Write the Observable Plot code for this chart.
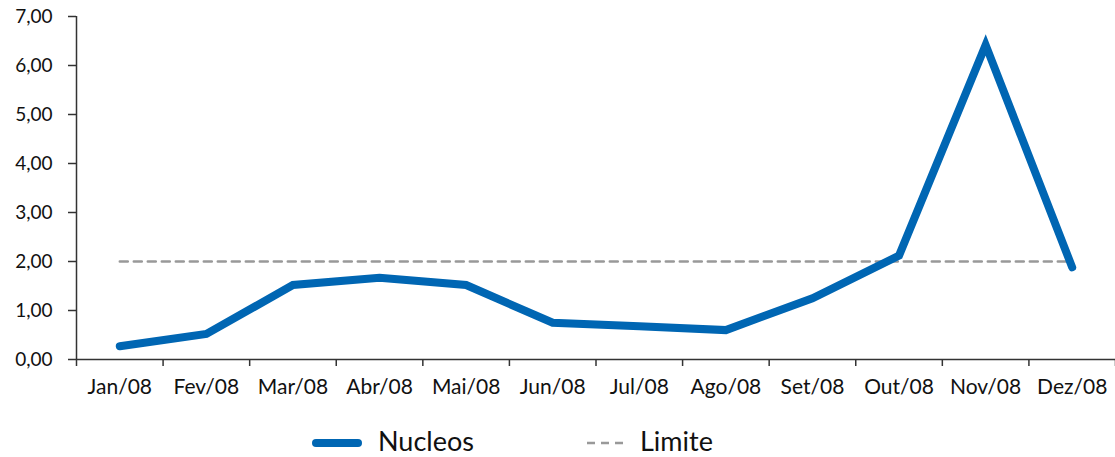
<!DOCTYPE html>
<html>
<head>
<meta charset="utf-8">
<script src="https://cdn.jsdelivr.net/npm/d3@7"></script>
<script src="https://cdn.jsdelivr.net/npm/@observablehq/plot@0.6"></script>
<style>
  body { margin: 0; background: #fff; font-family: Lato, "Open Sans", sans-serif; overflow: hidden; }
  #wrap { position: relative; width: 1115px; height: 457px; }
  #legend { position: absolute; top: 426px; left: 0; width: 1115px; height: 30px; font-size: 27px; line-height: 30px; color: #111; }
  .item { position: absolute; display: flex; align-items: center; height: 30px; line-height: 30px; }
  .sw { display: inline-block; margin-right: 16px; }
</style>
</head>
<body>
<div id="wrap">
  <div id="chart"></div>
  <div id="legend">
    <div class="item" style="left:312px"><span class="sw" style="width:50px;height:0;border-top:8px solid #0066b3;border-radius:4px;margin-top:4px"></span><span>Nucleos</span></div>
    <div class="item" style="left:587px"><svg class="sw" width="42" height="4" style="margin-right:11px;margin-top:4px"><line x1="0" y1="2" x2="42" y2="2" stroke="#999" stroke-width="2.5" stroke-dasharray="8,6"/></svg><span>Limite</span></div>
  </div>
</div>
<script>
const months = ["Jan/08","Fev/08","Mar/08","Abr/08","Mai/08","Jun/08","Jul/08","Ago/08","Set/08","Out/08","Nov/08","Dez/08"];
const nucleos = [0.27, 0.52, 1.52, 1.67, 1.52, 0.75, 0.68, 0.60, 1.25, 2.12, 6.42, 1.88];
const limite = [2, 2, 2, 2, 2, 2, 2, 2, 2, 2, 2, 2];
const yTicks = [0, 1, 2, 3, 4, 5, 6, 7];

const rows = months.map((m, i) => ({i, m, nucleos: nucleos[i], limite: limite[i]}));
const fmt = d => d.toFixed(2).replace(".", ",");

const chart = Plot.plot({
  width: 1115,
  height: 410,
  marginTop: 16,
  marginBottom: 51,
  marginLeft: 76,
  marginRight: 0,
  style: {fontFamily: "Lato, 'Open Sans', sans-serif", fontSize: "20px", color: "#111", background: "#fff"},
  x: {domain: [0, 12]},
  y: {domain: [0, 7]},
  marks: [
    Plot.axisY({ticks: yTicks, tickSize: 8, tickPadding: 16, tickFormat: fmt, label: null, stroke: "#333", strokeWidth: 1.5, fill: "#111", fontSize: 19}),
    Plot.axisX({ticks: d3.range(0, 13), tickSize: 7, tickFormat: () => "", label: null, stroke: "#333", strokeWidth: 1.5}),
    Plot.axisX({ticks: months.map((m, i) => i + 0.5), tickSize: 0, tickPadding: 20, tickFormat: v => months[Math.floor(v)], label: null, fill: "#111", fontSize: 21}),
    Plot.ruleX([0], {stroke: "#333", strokeWidth: 1.5}),
    Plot.ruleY([0], {stroke: "#333", strokeWidth: 1.5}),
    Plot.line(rows, {x: d => d.i + 0.5, y: "limite", stroke: "#999", strokeWidth: 2.5, strokeDasharray: "8,6"}),
    Plot.line(rows, {x: d => d.i + 0.5, y: "nucleos", stroke: "#0066b3", strokeWidth: 8, strokeLinejoin: "miter", strokeLinecap: "round", strokeMiterlimit: 10})
  ]
});
document.getElementById("chart").appendChild(chart);
</script>
</body>
</html>
